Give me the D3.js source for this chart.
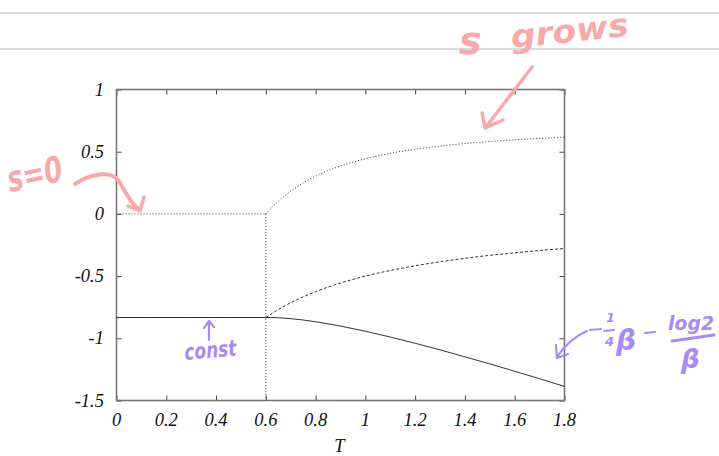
<!DOCTYPE html>
<html>
<head>
<meta charset="utf-8">
<script src="https://cdn.jsdelivr.net/npm/d3@7/dist/d3.min.js"></script>
<style>
  html, body { margin: 0; padding: 0; background: #fff; }
  svg { display: block; }
  .tick-label { font-family: "Liberation Serif", "DejaVu Serif", serif; font-style: italic; font-size: 18.5px; fill: #111; }
  .hand { font-family: "DejaVu Sans", sans-serif; font-style: oblique; font-weight: bold; }
</style>
</head>
<body>
<svg id="chart" width="719" height="456"></svg>
<script>
// ---- data ----
const xTicks = [0, 0.2, 0.4, 0.6, 0.8, 1, 1.2, 1.4, 1.6, 1.8];
const xTickLabels = ["0", "0.2", "0.4", "0.6", "0.8", "1", "1.2", "1.4", "1.6", "1.8"];
const yTicks = [1, 0.5, 0, -0.5, -1, -1.5];
const yTickLabels = ["1", "0.5", "0", "-0.5", "-1", "-1.5"];
const xLabel = "T";

const tLow = [0, 0.6];
const tHigh = [0.6, 0.62, 0.65, 0.7, 0.75, 0.8, 0.9, 1.0, 1.1, 1.2, 1.3, 1.4, 1.5, 1.6, 1.7, 1.8];

// dotted curve (s)
const sLow = [0, 0];
const sHigh = [0, 0.043, 0.101, 0.183, 0.249, 0.303, 0.385, 0.443, 0.487, 0.520, 0.545, 0.566, 0.582, 0.596, 0.607, 0.616];
// dashed curve
const eLow = [-0.833, -0.833];
const eHigh = [-0.833, -0.807, -0.769, -0.714, -0.667, -0.625, -0.556, -0.500, -0.455, -0.417, -0.385, -0.357, -0.333, -0.313, -0.294, -0.278];
// solid curve
const fLow = [-0.833, -0.833];
const fHigh = [-0.833, -0.833, -0.835, -0.842, -0.853, -0.867, -0.902, -0.943, -0.990, -1.040, -1.093, -1.149, -1.206, -1.265, -1.325, -1.387];
// vertical dotted line at the transition
const vLineT = [0.6, 0.6];
const vLineY = [0, -1.5];

// annotations
const annS1 = "s";
const annS2 = "grows";
const annS0 = "s=0";
const annConst = "const";

// ---- drawing ----
const svg = d3.select("#chart");
const W = 719, H = 456;
const x = d3.scaleLinear().domain([0, 1.8]).range([116.5, 564.5]);
const y = d3.scaleLinear().domain([-1.5, 1]).range([400.5, 89.5]);

// notebook lines
[13, 49].forEach(yy => {
  svg.append("line").attr("x1", 0).attr("x2", W).attr("y1", yy).attr("y2", yy)
    .attr("stroke", "#a9b9cc").attr("stroke-width", 1.2);
});

const g = svg.append("g");
const frameColor = "#777";
const tickLen = 5;

// ticks inside on all four sides
const axB = d3.axisBottom(x).tickValues(xTicks).tickSize(-tickLen).tickFormat("");
const axT = d3.axisTop(x).tickValues(xTicks).tickSize(-tickLen).tickFormat("");
const axL = d3.axisLeft(y).tickValues(yTicks).tickSize(-tickLen).tickFormat("");
const axR = d3.axisRight(y).tickValues(yTicks).tickSize(-tickLen).tickFormat("");
[[axB, `translate(0,${y(-1.5)})`], [axT, `translate(0,${y(1)})`],
 [axL, `translate(${x(0)},0)`], [axR, `translate(${x(1.8)},0)`]].forEach(([ax, tr]) => {
  const a = g.append("g").attr("transform", tr).call(ax);
  a.select(".domain").remove();
  a.selectAll(".tick line").attr("stroke", "#444").attr("stroke-width", 1);
});

// frame
g.append("rect").attr("x", x(0)).attr("y", y(1))
  .attr("width", x(1.8) - x(0)).attr("height", y(-1.5) - y(1))
  .attr("fill", "none").attr("stroke", frameColor).attr("stroke-width", 1.6);

// tick labels
g.selectAll(".xl").data(xTicks).enter().append("text")
  .attr("class", "tick-label").attr("x", d => x(d)).attr("y", 426)
  .attr("text-anchor", "middle").text((d, i) => xTickLabels[i]);
g.selectAll(".yl").data(yTicks).enter().append("text")
  .attr("class", "tick-label").attr("x", 104).attr("y", d => y(d) + 6)
  .attr("text-anchor", "end").text((d, i) => yTickLabels[i]);
g.append("text").attr("class", "tick-label").attr("x", x(0.9) - 1).attr("y", 452)
  .attr("text-anchor", "middle").text(xLabel);

// curves
const line = d3.line().x(d => x(d[0])).y(d => y(d[1])).curve(d3.curveMonotoneX);
const zip = (a, b) => a.map((v, i) => [v, b[i]]);
const curves = [
  { low: sLow, high: sHigh, dash: "1,2" },
  { low: eLow, high: eHigh, dash: "3,2" },
  { low: fLow, high: fHigh, dash: null }
];
curves.forEach(c => {
  [zip(tLow, c.low), zip(tHigh, c.high)].forEach(pts => {
    const p = g.append("path").attr("d", line(pts)).attr("fill", "none")
      .attr("stroke", "#333").attr("stroke-width", 1);
    if (c.dash) p.attr("stroke-dasharray", c.dash);
  });
});
g.append("path").attr("d", d3.line().x(d => x(d[0])).y(d => y(d[1]))(zip(vLineT, vLineY)))
  .attr("fill", "none").attr("stroke", "#333").attr("stroke-width", 1).attr("stroke-dasharray", "1,2");

// ---- handwritten annotations ----
const pink = "#f8a9a9", purple = "#a78bf2";
const ann = svg.append("g");
function stroke(d, col, w) {
  ann.append("path").attr("d", d).attr("fill", "none").attr("stroke", col)
    .attr("stroke-width", w || 3).attr("stroke-linecap", "round").attr("stroke-linejoin", "round");
}
// "s grows"
ann.append("text").attr("class", "hand").attr("x", 459).attr("y", 54)
  .attr("font-size", 38).attr("fill", pink).text(annS1);
ann.append("text").attr("class", "hand").attr("x", 512).attr("y", 48)
  .attr("font-size", 32).attr("fill", pink)
  .attr("transform", "rotate(-6 512 48)").attr("textLength", 118).attr("lengthAdjust", "spacingAndGlyphs")
  .text(annS2);
stroke("M532,67 L486,127", pink, 3.5);
stroke("M482,113 L485,128 L503,120", pink, 3.5);
// "s=0"
ann.append("text").attr("class", "hand").attr("x", 10).attr("y", 192)
  .attr("font-size", 36).attr("fill", pink)
  .attr("transform", "rotate(-12 10 192)").attr("textLength", 56).attr("lengthAdjust", "spacingAndGlyphs")
  .text(annS0);
stroke("M75,184 C90,174 110,170 118,180 C124,188 128,200 138,209", pink, 4);
stroke("M128,206 L140,211 L144,197", pink, 3.5);
// "const"
ann.append("text").attr("class", "hand").attr("x", 185).attr("y", 360)
  .attr("font-size", 22).attr("fill", purple)
  .attr("transform", "rotate(-5 185 360)").attr("textLength", 52).attr("lengthAdjust", "spacingAndGlyphs")
  .text(annConst);
stroke("M209,340 L209,322", purple, 2.2);
stroke("M204,328 L209,321 L214,327", purple, 2.2);
// formula  -1/4 β - log2/β
stroke("M587,331 C575,336 565,345 557,357", purple, 2.2);
stroke("M556,345 L557,358 L568,354", purple, 2.2);
stroke("M590,330 L601,329", purple, 2.2);
ann.append("text").attr("class", "hand").attr("x", 606).attr("y", 322).attr("font-size", 13).attr("fill", purple).text("1");
stroke("M604,331 L614,330", purple, 2);
ann.append("text").attr("class", "hand").attr("x", 605).attr("y", 346).attr("font-size", 13).attr("fill", purple).text("4");
ann.append("text").attr("class", "hand").attr("x", 616).attr("y", 350).attr("font-size", 28).attr("fill", purple).text("β");
stroke("M645,333 L655,332", purple, 2.2);
ann.append("text").attr("class", "hand").attr("x", 668).attr("y", 330).attr("font-size", 19).attr("fill", purple)
  .attr("textLength", 46).attr("lengthAdjust", "spacingAndGlyphs").text("log2");
stroke("M672,341 L714,335", purple, 3);
ann.append("text").attr("class", "hand").attr("x", 681).attr("y", 368).attr("font-size", 26).attr("fill", purple).text("β");
</script>
</body>
</html>
